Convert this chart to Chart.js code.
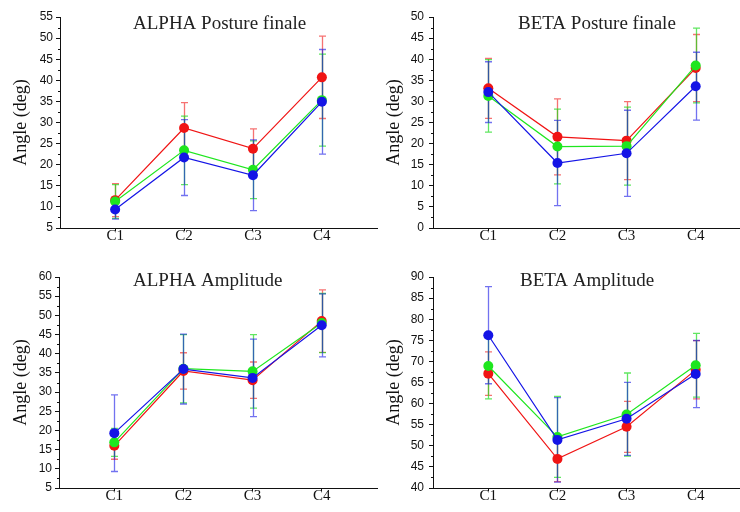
<!DOCTYPE html>
<html>
<head>
<meta charset="utf-8">
<script src="https://cdn.jsdelivr.net/npm/chart.js@4.4.0/dist/chart.umd.min.js"></script>
<style>
html,body{margin:0;padding:0;background:#fff;}
body{position:relative;width:740px;height:512px;overflow:hidden;}
.panel{position:absolute;}
</style>
</head>
<body>
<div class="panel" style="left:0;top:0"><canvas id="apf" width="390" height="256"></canvas></div>
<div class="panel" style="left:370px;top:0"><canvas id="bpf" width="390" height="256"></canvas></div>
<div class="panel" style="left:0;top:260px"><canvas id="aa" width="390" height="256"></canvas></div>
<div class="panel" style="left:370px;top:260px"><canvas id="ba" width="390" height="256"></canvas></div>
<script>
const categories = ['C1', 'C2', 'C3', 'C4'];

// ALPHA Posture finale : mean and sd
const apfRed = [11.6, 28.7, 23.8, 40.7];
const apfRedSd = [3.9, 6.0, 4.7, 9.75];
const apfGreen = [11.3, 23.4, 18.8, 35.3];
const apfGreenSd = [4.0, 8.1, 6.85, 10.9];
const apfBlue = [9.4, 21.7, 17.5, 34.9];
const apfBlueSd = [2.3, 9.0, 8.4, 12.4];

// BETA Posture finale
const bpfRed = [33.1, 21.6, 20.7, 37.9];
const bpfRedSd = [7.1, 9.0, 9.25, 7.95];
const bpfGreen = [31.3, 19.3, 19.4, 38.5];
const bpfGreenSd = [8.6, 8.85, 9.25, 8.85];
const bpfBlue = [32.2, 15.4, 17.7, 33.6];
const bpfBlueSd = [7.2, 10.1, 10.2, 8.05];

// ALPHA Amplitude
const aaRed = [16.0, 35.5, 33.1, 48.5];
const aaRedSd = [3.5, 4.75, 4.75, 8.15];
const aaGreen = [16.9, 36.1, 35.4, 48.0];
const aaGreenSd = [3.65, 8.9, 9.6, 7.7];
const aaBlue = [19.3, 36.0, 33.7, 47.4];
const aaBlueSd = [10.0, 9.1, 10.1, 8.2];

// BETA Amplitude
const baRed = [67.1, 46.9, 54.5, 68.0];
const baRedSd = [5.15, 5.4, 6.05, 6.9];
const baGreen = [68.9, 52.1, 57.4, 69.1];
const baGreenSd = [7.8, 9.6, 9.85, 7.55];
const baBlue = [76.2, 51.4, 56.4, 67.0];
const baBlueSd = [11.5, 10.0, 8.65, 7.95];

const RED = 'rgb(240,20,20)', GREEN = 'rgb(30,230,30)', BLUE = 'rgb(20,20,230)';
const RED_BAR = 'rgba(240,20,20,0.6)', GREEN_BAR = 'rgba(30,220,30,0.7)', BLUE_BAR = 'rgba(20,20,230,0.6)';

// error bars, minor y ticks and the title inside the plot
const extras = {
  id: 'extras',
  beforeDatasetsDraw(chart) {
    const ctx = chart.ctx, xs = chart.scales.x, ys = chart.scales.y;
    ctx.save();
    ctx.lineWidth = 1.3;
    chart.data.datasets.forEach(function (ds) {
      ctx.strokeStyle = ds.barColor;
      ds.data.forEach(function (p, j) {
        const px = Math.round(xs.getPixelForValue(p.x)) + 0.5;
        const t = ys.getPixelForValue(p.y + ds.sd[j]);
        const b = ys.getPixelForValue(p.y - ds.sd[j]);
        ctx.beginPath();
        ctx.moveTo(px, t); ctx.lineTo(px, b);
        ctx.moveTo(px - 3.5, t); ctx.lineTo(px + 3.5, t);
        ctx.moveTo(px - 3.5, b); ctx.lineTo(px + 3.5, b);
        ctx.stroke();
      });
    });
    ctx.restore();
  },
  afterDraw(chart, args, opts) {
    const ctx = chart.ctx, ys = chart.scales.y;
    ctx.save();
    ctx.strokeStyle = '#111';
    ctx.lineWidth = 1;
    ctx.beginPath();
    for (let v = ys.min + 2.5; v < ys.max; v += 5) {
      const py = Math.round(ys.getPixelForValue(v)) + 0.5;
      ctx.moveTo(ys.right - 2, py);
      ctx.lineTo(ys.right, py);
    }
    ctx.stroke();
    ctx.fillStyle = '#222';
    ctx.font = '19px "Liberation Serif"';
    ctx.textBaseline = 'alphabetic';
    ctx.fillText(opts.text, opts.x, opts.y);
    ctx.restore();
  }
};

function series(vals, sd, color, barColor, order) {
  return {
    data: vals.map(function (v, i) { return { x: i + 1, y: v }; }),
    sd: sd,
    barColor: barColor,
    borderColor: color,
    backgroundColor: color,
    pointBackgroundColor: color,
    pointBorderColor: color,
    pointBorderWidth: 0,
    pointRadius: 5,
    borderWidth: 1.2,
    order: order
  };
}

function panel(id, p) {
  new Chart(document.getElementById(id), {
    type: 'line',
    data: {
      datasets: [
        series(p.red, p.redSd, RED, RED_BAR, 2),
        series(p.green, p.greenSd, GREEN, GREEN_BAR, 1),
        series(p.blue, p.blueSd, BLUE, BLUE_BAR, 0)
      ]
    },
    options: {
      responsive: false,
      animation: false,
      layout: { padding: { left: 0, top: 17, right: p.rightPad, bottom: 0 } },
      plugins: {
        legend: { display: false },
        tooltip: { enabled: false },
        extras: { text: p.title, x: p.titleX, y: p.titleY }
      },
      scales: {
        x: {
          type: 'linear',
          min: 0.2,
          max: 4.8,
          afterBuildTicks: function (s) {
            s.ticks = categories.map(function (c, i) { return { value: i + 1 }; });
          },
          afterFit: function (s) { s.height = 28; },
          border: { display: true, color: '#111', width: 1 },
          grid: { drawOnChartArea: false, drawTicks: true, tickLength: 3, tickColor: '#111' },
          ticks: {
            callback: function (v) { return categories[v - 1]; },
            font: { family: 'Liberation Serif', size: 15 },
            color: '#111',
            padding: -4,
            maxRotation: 0,
            autoSkip: false
          }
        },
        y: {
          min: p.ymin,
          max: p.ymax,
          afterFit: function (s) { s.width = p.yw; },
          border: { display: true, color: '#111', width: 1 },
          grid: { drawOnChartArea: false, drawTicks: true, tickLength: 4, tickColor: '#111' },
          ticks: {
            stepSize: 5,
            font: { family: 'Liberation Sans', size: 12 },
            color: '#111',
            padding: p.tickPad,
            autoSkip: false
          },
          title: {
            display: true,
            text: 'Angle (deg)',
            font: { family: 'Liberation Serif', size: 18 },
            color: '#111',
            padding: { top: p.titlePad, bottom: 0 }
          }
        }
      }
    },
    plugins: [extras]
  });
}

panel('apf', {
  title: 'ALPHA Posture finale', titleX: 133, titleY: 29,
  ymin: 5, ymax: 55, yw: 60, tickPad: 3, titlePad: 10, rightPad: 13,
  red: apfRed, redSd: apfRedSd, green: apfGreen, greenSd: apfGreenSd, blue: apfBlue, blueSd: apfBlueSd
});
panel('bpf', {
  title: 'BETA Posture finale', titleX: 148, titleY: 29,
  ymin: 0, ymax: 50, yw: 63, tickPad: 5, titlePad: 13, rightPad: 9,
  red: bpfRed, redSd: bpfRedSd, green: bpfGreen, greenSd: bpfGreenSd, blue: bpfBlue, blueSd: bpfBlueSd
});
panel('aa', {
  title: 'ALPHA Amplitude', titleX: 133, titleY: 26,
  ymin: 5, ymax: 60, yw: 59, tickPad: 3, titlePad: 10, rightPad: 13,
  red: aaRed, redSd: aaRedSd, green: aaGreen, greenSd: aaGreenSd, blue: aaBlue, blueSd: aaBlueSd
});
panel('ba', {
  title: 'BETA Amplitude', titleX: 150, titleY: 26,
  ymin: 40, ymax: 90, yw: 63, tickPad: 5, titlePad: 13, rightPad: 9,
  red: baRed, redSd: baRedSd, green: baGreen, greenSd: baGreenSd, blue: baBlue, blueSd: baBlueSd
});
</script>
</body>
</html>
